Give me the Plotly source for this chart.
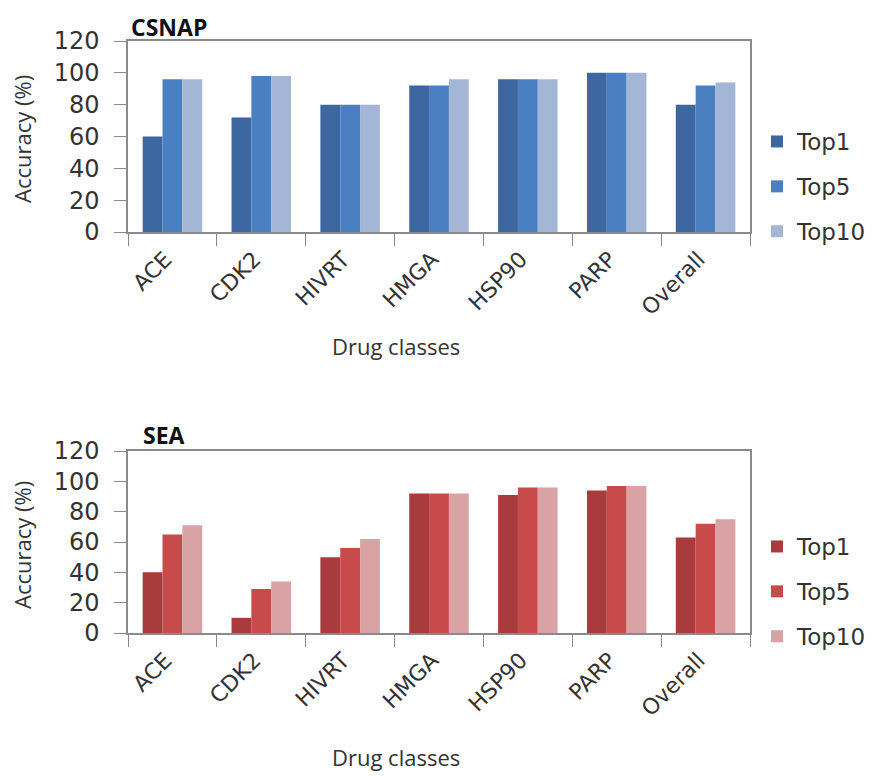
import plotly.graph_objects as go

categories = ["ACE", "CDK2", "HIVRT", "HMGA", "HSP90", "PARP", "Overall"]
series_names = ["Top1", "Top5", "Top10"]

csnap_top1 = [60, 72, 80, 92, 96, 100, 80]
csnap_top5 = [96, 98, 80, 92, 96, 100, 92]
csnap_top10 = [96, 98, 80, 96, 96, 100, 94]

sea_top1 = [40, 10, 50, 92, 91, 94, 63]
sea_top5 = [65, 29, 56, 92, 96, 97, 72]
sea_top10 = [71, 34, 62, 92, 96, 97, 75]

y_ticks = [0, 20, 40, 60, 80, 100, 120]

blue_colors = ["#3D67A0", "#4A7FC1", "#A4B6D6"]
red_colors = ["#A83B3B", "#C94A4A", "#D9A2A4"]

W, H = 884, 776
def px_x(x): return x / W
def px_y(y): return 1 - y / H

fig = go.Figure()

tick_font = dict(family="DejaVu Sans", size=24, color="#333")
xtick_font = dict(family="DejaVu Sans", size=22, color="#333")
leg_font = dict(family="DejaVu Sans", size=23, color="#333")

for vals, name, col in zip([csnap_top1, csnap_top5, csnap_top10], series_names, blue_colors):
    fig.add_trace(go.Bar(x=categories, y=vals, name=name, marker=dict(color=col, line=dict(width=0)),
                         xaxis="x", yaxis="y", legend="legend", legendgroup="c" + name))
for vals, name, col in zip([sea_top1, sea_top5, sea_top10], series_names, red_colors):
    fig.add_trace(go.Bar(x=categories, y=vals, name=name, marker=dict(color=col, line=dict(width=0)),
                         xaxis="x2", yaxis="y2", legend="legend2", legendgroup="s" + name))

xdom = [px_x(128), px_x(750)]
axis_common = dict(showline=True, linecolor="#8a8a8a", linewidth=1.5, mirror=True, automargin=False,
                   ticks="outside", ticklen=12, tickcolor="#8a8a8a", showgrid=False, zeroline=False)

fig.update_layout(
    width=W, height=H, margin=dict(l=0, r=0, t=0, b=0, autoexpand=False),
    paper_bgcolor="white", plot_bgcolor="white",
    barmode="group", bargap=0.33, bargroupgap=0,
    xaxis=dict(domain=xdom, anchor="y", tickangle=-45, tickson="boundaries", tickfont=xtick_font,
               ticklabelshift=-7, ticklabelstandoff=4, **axis_common),
    yaxis=dict(domain=[px_y(232), px_y(41)], anchor="x", range=[0, 120], tickvals=y_ticks,
               tickfont=tick_font, ticklabelstandoff=10, **axis_common),
    xaxis2=dict(domain=xdom, anchor="y2", tickangle=-45, tickson="boundaries", tickfont=xtick_font,
                ticklabelshift=-7, ticklabelstandoff=4, **axis_common),
    yaxis2=dict(domain=[px_y(633), px_y(451)], anchor="x2", range=[0, 120], tickvals=y_ticks,
                tickfont=tick_font, ticklabelstandoff=10, **axis_common),
    legend=dict(x=px_x(757), y=px_y(120), xanchor="left", yanchor="top",
                font=leg_font, tracegroupgap=12, bgcolor="rgba(0,0,0,0)"),
    legend2=dict(x=px_x(757), y=px_y(525), xanchor="left", yanchor="top",
                 font=leg_font, tracegroupgap=12, bgcolor="rgba(0,0,0,0)"),
    showlegend=True,
)

title_font = dict(family="Open Sans", size=23, color="#111")
label_font = dict(family="Open Sans", size=22, color="#333")
ann = [
    dict(text="<b>CSNAP</b>", x=px_x(129), y=px_y(27), xanchor="left", yanchor="middle", font=title_font),
    dict(text="<b>SEA</b>", x=px_x(141), y=px_y(435), xanchor="left", yanchor="middle", font=title_font),
    dict(text="Accuracy (%)", x=px_x(22), y=px_y(139), textangle=-90, xanchor="center", yanchor="middle", font=label_font),
    dict(text="Accuracy (%)", x=px_x(22), y=px_y(545), textangle=-90, xanchor="center", yanchor="middle", font=label_font),
    dict(text="Drug classes", x=px_x(396), y=px_y(346), xanchor="center", yanchor="middle", font=label_font),
    dict(text="Drug classes", x=px_x(396), y=px_y(757), xanchor="center", yanchor="middle", font=label_font),
]
for a in ann:
    a.update(xref="paper", yref="paper", showarrow=False)
fig.update_layout(annotations=ann)

fig.write_html("out.html", config={"displayModeBar": False},
               post_script="document.body.style.margin='0';document.body.style.overflow='hidden';")
